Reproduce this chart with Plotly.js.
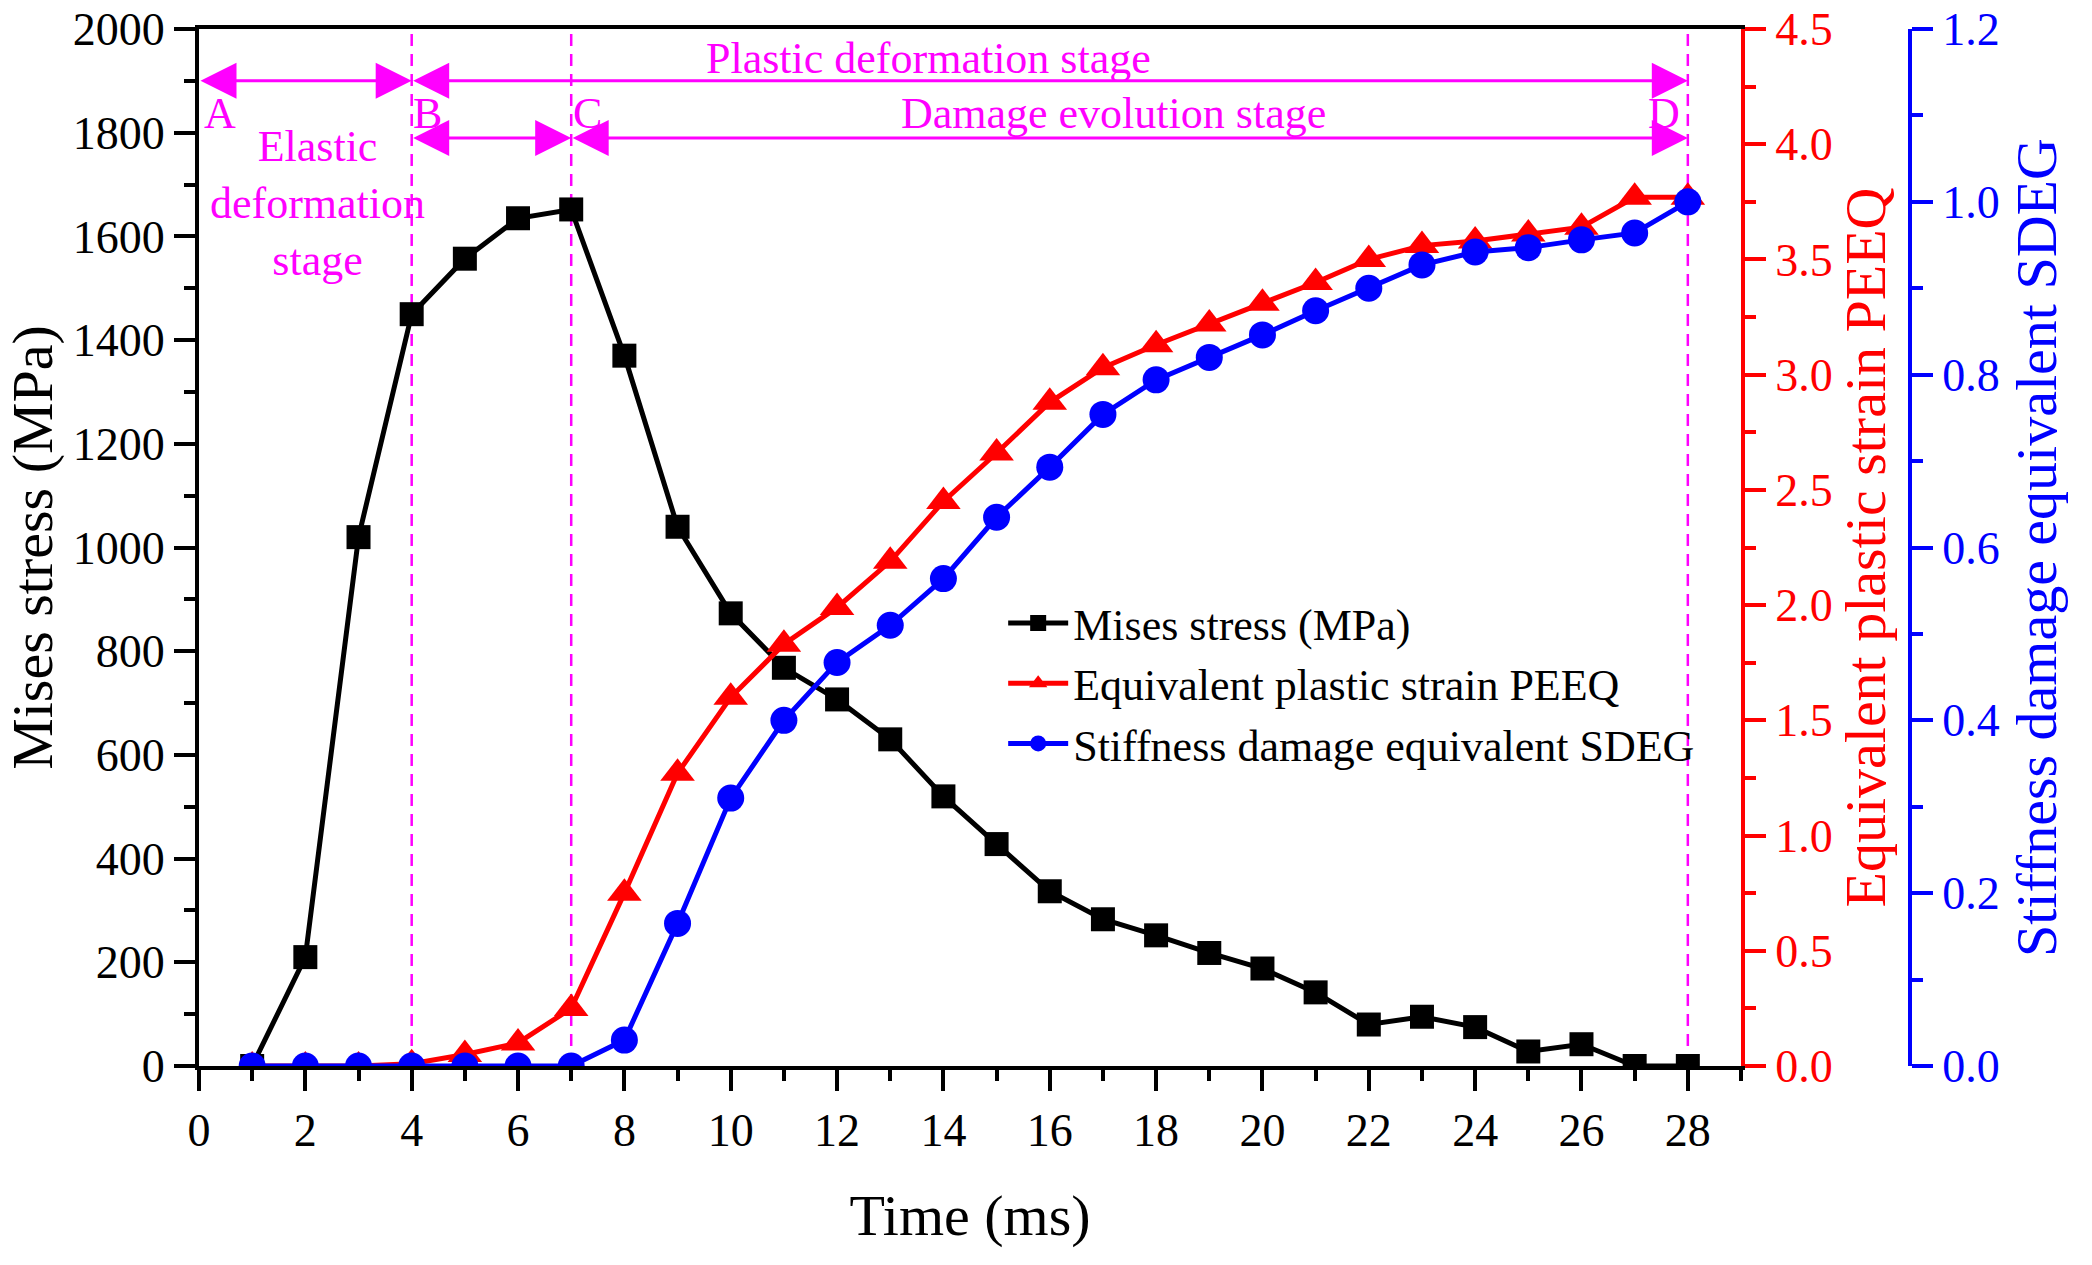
<!DOCTYPE html>
<html>
<head>
<meta charset="utf-8">
<script src="https://cdn.plot.ly/plotly-3.0.1.min.js"></script>
<style>html,body{margin:0;padding:0;background:#fff;}</style>
</head>
<body>
<div id="chart" style="width:2092px;height:1265px;"></div>
<script>
// ---- data ----
const timeMs = [1,2,3,4,5,6,7,8,9,10,11,12,13,14,15,16,17,18,19,20,21,22,23,24,25,26,27,28];
const misesStress = [0,210,1020,1450,1557,1635,1652,1370,1040,873,768,707,630,520,428,337,283,252,218,188,142,80,95,75,28,42,0,0];
const peeq = [0,0,0,0.01,0.05,0.1,0.25,0.75,1.27,1.6,1.83,1.99,2.19,2.45,2.66,2.88,3.03,3.13,3.22,3.31,3.4,3.5,3.56,3.58,3.61,3.64,3.77,3.77];
const sdeg = [0,0,0,0,0,0,0,0.03,0.165,0.31,0.4,0.467,0.51,0.564,0.635,0.693,0.754,0.794,0.82,0.846,0.874,0.9,0.927,0.942,0.947,0.956,0.964,1.0];
const seriesNames = ['Mises stress (MPa)','Equivalent plastic strain PEEQ','Stiffness damage equivalent SDEG'];
const stageBounds = [4, 7, 28];
const pointLabels = ['A','B','C','D'];
const pointLabelX = [0.4, 4.3, 7.3, 27.55];
const stageTexts = ['Plastic deformation stage','Damage evolution stage','Elastic<br>deformation<br>stage'];

const FONT = '"Liberation Serif", "Times New Roman", serif';
const MAG = '#FF00FF';

const traces = [
  {x: timeMs, y: misesStress, name: seriesNames[0], type:'scatter', mode:'lines+markers',
   line:{color:'#000', width:5}, marker:{symbol:'square', size:24, color:'#000'}, yaxis:'y'},
  {x: timeMs, y: peeq, name: seriesNames[1], type:'scatter', mode:'lines+markers',
   line:{color:'#FF0000', width:5}, marker:{symbol:'triangle-up', size:30, color:'#FF0000'}, yaxis:'y2'},
  {x: timeMs, y: sdeg, name: seriesNames[2], type:'scatter', mode:'lines+markers',
   line:{color:'#0000FF', width:5}, marker:{symbol:'circle', size:27, color:'#0000FF'}, yaxis:'y3'}
];

const shapes = stageBounds.map(b => ({
  type:'line', xref:'x', yref:'paper', x0:b, x1:b, y0:0, y1:1,
  line:{color:MAG, width:2.5, dash:'12px,8px'}, layer:'below'
}));

function arrow(x0, x1, y) {
  return {xref:'x', yref:'y', axref:'x', ayref:'y', x:x1, y:y, ax:x0, ay:y,
    text:'', showarrow:true, arrowside:'end+start', arrowhead:2, startarrowhead:2,
    arrowsize:2.4, startarrowsize:2.4, arrowwidth:3, arrowcolor:MAG, standoff:0, startstandoff:0};
}
const annotations = [
  arrow(0, stageBounds[0], 1900),
  arrow(stageBounds[0], stageBounds[2], 1900),
  arrow(stageBounds[0], stageBounds[1], 1790),
  arrow(stageBounds[1], stageBounds[2], 1790)
];
pointLabels.forEach((t,i) => annotations.push({xref:'x', yref:'y', x:pointLabelX[i], y:1838, text:t,
  showarrow:false, font:{family:FONT, size:44, color:MAG}}));
annotations.push({xref:'x', yref:'y', x:13.72, y:1943, text:stageTexts[0], showarrow:false, font:{family:FONT, size:44, color:MAG}});
annotations.push({xref:'x', yref:'y', x:17.2, y:1838, text:stageTexts[1], showarrow:false, font:{family:FONT, size:44, color:MAG}});
annotations.push({xref:'x', yref:'y', x:2.23, y:1663, text:stageTexts[2], showarrow:false, font:{family:FONT, size:44, color:MAG}});

const xdom = (1741-199)/(2092-199-182);

const layout = {
  width:2092, height:1265,
  margin:{l:199, r:182, t:29, b:199, pad:0},
  paper_bgcolor:'#fff', plot_bgcolor:'#fff',
  font:{family:FONT, size:46, color:'#000'},
  showlegend:true,
  legend:{x:0.47, y:0.461, xanchor:'left', yanchor:'top', bgcolor:'rgba(0,0,0,0)',
    font:{family:FONT, size:44, color:'#000'}, tracegroupgap:0, itemwidth:60},
  xaxis:{domain:[0, xdom], range:[0,29], dtick:2, tick0:0, showgrid:false, zeroline:false,
    showline:true, linecolor:'#000', linewidth:4, mirror:true,
    ticks:'outside', ticklen:21, tickwidth:4, tickcolor:'#000',
    minor:{dtick:1, ticks:'outside', ticklen:11, tickwidth:4, tickcolor:'#000'},
    tickfont:{family:FONT, size:46, color:'#000'},
    title:{text:'Time (ms)', font:{family:FONT, size:58, color:'#000'}, standoff:40}},
  yaxis:{range:[0,2000], dtick:200, showgrid:false, zeroline:false,
    showline:true, linecolor:'#000', linewidth:4, mirror:false,
    ticks:'outside', ticklen:21, tickwidth:4, tickcolor:'#000',
    minor:{dtick:100, ticks:'outside', ticklen:11, tickwidth:4, tickcolor:'#000'},
    tickfont:{family:FONT, size:46, color:'#000'},
    title:{text:'Mises stress (MPa)', font:{family:FONT, size:58, color:'#000'}, standoff:10}},
  yaxis2:{range:[0,4.5], dtick:0.5, tickformat:'.1f', overlaying:'y', side:'right', anchor:'x',
    showgrid:false, zeroline:false, showline:true, linecolor:'#FF0000', linewidth:4,
    ticks:'outside', ticklen:21, tickwidth:4, tickcolor:'#FF0000',
    minor:{dtick:0.25, ticks:'outside', ticklen:11, tickwidth:4, tickcolor:'#FF0000'},
    tickfont:{family:FONT, size:46, color:'#FF0000'},
    title:{text:'Equivalent plastic strain PEEQ', font:{family:FONT, size:58, color:'#FF0000'}, standoff:12}},
  yaxis3:{range:[0,1.2], dtick:0.2, tickformat:'.1f', overlaying:'y', side:'right', anchor:'free', position:1,
    showgrid:false, zeroline:false, showline:true, linecolor:'#0000FF', linewidth:4,
    ticks:'outside', ticklen:21, tickwidth:4, tickcolor:'#0000FF',
    minor:{dtick:0.1, ticks:'outside', ticklen:11, tickwidth:4, tickcolor:'#0000FF'},
    tickfont:{family:FONT, size:46, color:'#0000FF'},
    title:{text:'Stiffness damage equivalent SDEG', font:{family:FONT, size:58, color:'#0000FF'}, standoff:16}},
  shapes: shapes,
  annotations: annotations
};

Plotly.newPlot('chart', traces, layout, {displayModeBar:false, staticPlot:true});
</script>
</body>
</html>
